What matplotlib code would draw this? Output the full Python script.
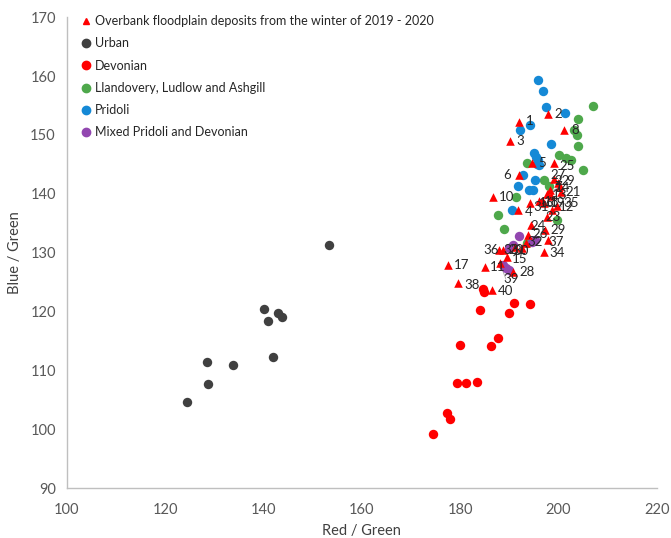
import matplotlib
matplotlib.use("Agg")
import matplotlib.pyplot as plt
from matplotlib.lines import Line2D

plt.rcParams["font.family"] = ["Lato", "DejaVu Sans"]

# Overbank floodplain deposits (red triangles), sample number labels
flood_ids = list(range(1, 41))
flood_x = [192.0, 197.8, 190.2, 191.7, 194.6, 192.0, 198.2, 201.2, 200.4, 186.6,
           185.0, 198.6, 198.4, 197.6, 189.6, 196.0, 177.5, 196.6, 197.0, 191.2,
           200.6, 199.9, 197.6, 194.5, 199.0, 193.8, 199.0, 190.8, 197.2, 192.6,
           194.2, 193.4, 188.7, 197.0, 199.6, 187.9, 197.8, 179.6, 188.1, 186.4]
flood_y = [152.2, 153.6, 148.9, 137.2, 145.2, 143.2, 140.6, 150.9, 141.3, 139.5,
           127.6, 137.2, 139.6, 140.0, 129.3, 138.8, 127.9, 138.8, 138.5, 131.0,
           140.3, 141.8, 136.0, 134.7, 145.3, 133.0, 142.6, 126.7, 133.9, 130.8,
           138.4, 131.6, 130.4, 130.1, 138.0, 130.4, 132.1, 124.8, 128.2, 123.6]

urban_x = [153.4, 140.0, 143.0, 143.7, 140.9, 142.0, 128.4, 133.7, 128.6, 124.4]
urban_y = [131.3, 120.4, 119.7, 119.0, 118.4, 112.2, 111.4, 110.9, 107.7, 104.7]

devonian_x = [184.1, 191.0, 194.2, 189.9, 187.7, 186.2, 180.0, 179.3, 181.1, 183.4,
              177.3, 178.0, 174.5, 184.7, 184.9]
devonian_y = [120.2, 121.4, 121.3, 119.8, 115.5, 114.1, 114.3, 107.8, 107.9, 108.0,
              102.8, 101.8, 99.1, 123.9, 123.3]

llandovery_x = [207.1, 203.9, 203.2, 203.7, 203.9, 200.1, 201.6, 202.6, 205.0, 193.6,
                197.0, 198.0, 191.3, 187.6, 199.7, 188.9, 193.5]
llandovery_y = [154.9, 152.7, 150.8, 150.0, 148.1, 146.6, 146.0, 145.7, 144.1, 145.2,
                142.3, 141.3, 139.5, 136.4, 135.5, 134.1, 131.6]

pridoli_x = [195.9, 196.9, 197.5, 201.3, 194.2, 192.2, 198.4, 195.0, 195.5, 195.8,
             196.1, 192.8, 195.2, 191.8, 194.8, 194.0, 190.6, 195.6]
pridoli_y = [159.4, 157.4, 154.8, 153.8, 151.7, 150.8, 148.5, 147.0, 146.3, 145.7,
             144.9, 143.2, 142.3, 141.3, 140.6, 140.7, 137.3, 145.0]

mixed_x = [192.0, 195.2, 190.8, 194.6, 190.0, 188.8, 189.4, 190.0]
mixed_y = [132.8, 132.1, 131.3, 131.8, 130.8, 127.9, 127.4, 127.0]

# label centres (data units), Excel-style placement
label_pos = {
    1: (194.2, 152.3), 2: (199.9, 153.5), 3: (192.3, 148.9), 4: (194.0, 136.9),
    5: (196.7, 145.2), 6: (189.5, 143.2), 7: (199.9, 141.1), 8: (203.4, 150.9),
    9: (202.3, 142.1), 10: (189.4, 139.4), 11: (187.7, 127.6), 12: (201.6, 137.8),
    13: (200.3, 139.8), 14: (200.9, 141.0), 15: (192.0, 129.0), 16: (197.6, 138.4),
    17: (180.3, 127.9), 18: (198.6, 138.6), 19: (199.9, 138.4), 20: (191.3, 130.4),
    21: (203.0, 140.3), 22: (200.7, 142.1), 23: (198.9, 136.1), 24: (195.9, 134.5),
    25: (201.8, 144.7), 26: (196.2, 133.1), 27: (199.9, 143.2), 28: (193.6, 126.7),
    29: (199.9, 133.8), 30: (192.3, 130.3), 31: (196.4, 137.8), 32: (195.2, 131.8),
    33: (190.3, 130.4), 34: (199.7, 130.0), 35: (202.6, 138.4), 36: (186.2, 130.4),
    37: (199.5, 131.8), 38: (182.5, 124.5), 39: (190.3, 125.5), 40: (189.3, 123.5),
}

RED = "#FF0000"
URBAN = "#404040"
GREEN = "#4EA84B"
BLUE = "#1589D6"
PURPLE = "#9247B0"

fig = plt.figure(figsize=(6.71, 5.38), dpi=100)
ax = fig.add_axes([0.0998, 0.0929, 0.879, 0.875])

circ = 46
ax.scatter(urban_x, urban_y, s=circ, color=URBAN, linewidths=0, zorder=2)
ax.scatter(devonian_x, devonian_y, s=circ, color=RED, linewidths=0, zorder=2)
ax.scatter(llandovery_x, llandovery_y, s=circ, color=GREEN, linewidths=0, zorder=2)
ax.scatter(pridoli_x, pridoli_y, s=circ, color=BLUE, linewidths=0, zorder=2)
ax.scatter(mixed_x, mixed_y, s=circ, color=PURPLE, linewidths=0, zorder=2)
ax.scatter(flood_x, flood_y, s=38, marker="^", color=RED, linewidths=0, zorder=3)

for i, x, y in zip(flood_ids, flood_x, flood_y):
    lx, ly = label_pos[i]
    ax.text(lx, ly, str(i), fontsize=9.5, color="#262626", ha="center", va="center", zorder=4)
    if ((lx - x) ** 2 + (ly - y) ** 2) ** 0.5 > 3.0:
        ax.plot([x, lx - 1.0 * (1 if lx > x else -1)], [y, ly], color="#A6A6A6", lw=0.6, zorder=1)

ax.set_xlim(100, 220)
ax.set_ylim(90, 170)
ax.set_xticks(range(100, 221, 20))
ax.set_yticks(range(90, 171, 10))
ax.tick_params(labelsize=10.5, colors="#595959", length=0)
ax.tick_params(axis="x", pad=11)
ax.tick_params(axis="y", pad=8)
for side in ["top", "right"]:
    ax.spines[side].set_visible(False)
for side in ["left", "bottom"]:
    ax.spines[side].set_color("#BFBFBF")
    ax.spines[side].set_linewidth(1.0)

ax.set_xlabel("Red / Green", fontsize=10.5, color="#404040", labelpad=5)
ax.set_ylabel("Blue / Green", fontsize=10.5, color="#404040", labelpad=6)

handles = [
    Line2D([], [], marker="^", ls="", color=RED, markersize=5),
    Line2D([], [], marker="o", ls="", color=URBAN, markersize=6),
    Line2D([], [], marker="o", ls="", color=RED, markersize=6),
    Line2D([], [], marker="o", ls="", color=GREEN, markersize=6),
    Line2D([], [], marker="o", ls="", color=BLUE, markersize=6),
    Line2D([], [], marker="o", ls="", color=PURPLE, markersize=6),
]
names = [
    "Overbank floodplain deposits from the winter of 2019 - 2020",
    "Urban",
    "Devonian",
    "Llandovery, Ludlow and Ashgill",
    "Pridoli",
    "Mixed Pridoli and Devonian",
]
leg = ax.legend(handles, names, loc="upper left", bbox_to_anchor=(0.018, 1.015), frameon=False,
                fontsize=9, handlelength=0.6, handletextpad=0.4, labelspacing=0.82,
                borderaxespad=0)
for t in leg.get_texts():
    t.set_color("#262626")

fig.savefig("out.png", dpi=100)
